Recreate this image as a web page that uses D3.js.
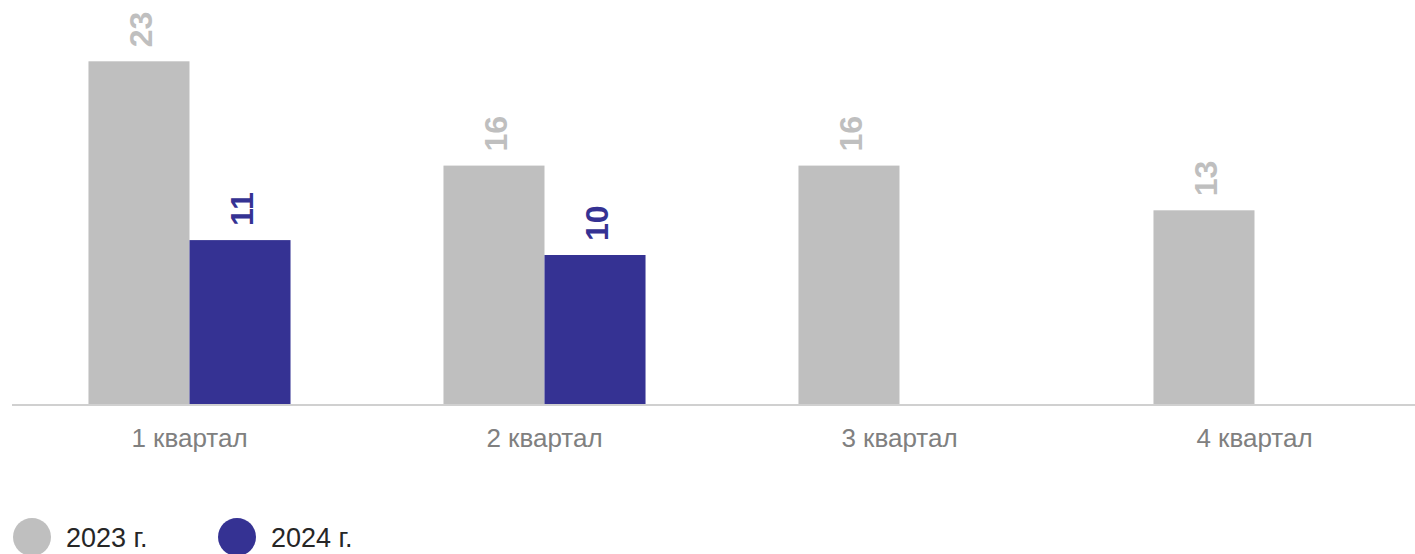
<!DOCTYPE html>
<html>
<head>
<meta charset="utf-8">
<script src="https://cdn.jsdelivr.net/npm/d3@7"></script>
<style>
  html, body { margin: 0; padding: 0; background: #ffffff; }
  svg { display: block; font-family: "Liberation Sans", Arial, sans-serif; }
</style>
</head>
<body>
<svg id="chart" width="1415" height="554"></svg>
<script>
const categories = ["1 квартал", "2 квартал", "3 квартал", "4 квартал"];
const seriesNames = ["2023 г.", "2024 г."];
const values2023 = [23, 16, 16, 13];
const values2024 = [11, 10, null, null];
const seriesColors = ["#bfbfbf", "#353293"];

const svg = d3.select("#chart");
const W = 1415, H = 554;
const baseY = 404;

const x0 = d3.scaleBand().domain(categories).range([12, 12 + 4 * 355]).padding(0);
const x1 = d3.scaleBand().domain(seriesNames).range([0, x0.bandwidth()]).paddingInner(0).paddingOuter(0.757);
const y = d3.scaleLinear().domain([0, 25]).range([baseY, baseY - 25 * 14.9]);

const seriesData = [values2023, values2024];
const rows = [];
categories.forEach((c, i) => {
  seriesNames.forEach((s, j) => {
    const v = seriesData[j][i];
    if (v != null) rows.push({ cat: c, series: s, idx: j, value: v });
  });
});

// bars
svg.append("g").selectAll("rect").data(rows).join("rect")
  .attr("x", d => x0(d.cat) + x1(d.series))
  .attr("y", d => y(d.value))
  .attr("width", x1.bandwidth())
  .attr("height", d => y(0) - y(d.value))
  .attr("fill", d => seriesColors[d.idx]);

// value labels (rotated)
svg.append("g").selectAll("text").data(rows).join("text")
  .attr("transform", d => {
    const cx = x0(d.cat) + x1(d.series) + x1.bandwidth() / 2;
    return `translate(${cx + 1},${y(d.value) - 14}) rotate(-90)`;
  })
  .attr("dy", "0.36em")
  .attr("text-anchor", "start")
  .attr("font-size", 32)
  .attr("font-weight", "bold")
  .attr("fill", d => seriesColors[d.idx])
  .text(d => d.value);

// axis baseline
svg.append("line")
  .attr("x1", 12).attr("x2", W)
  .attr("y1", baseY + 1).attr("y2", baseY + 1)
  .attr("stroke", "#d0d0d0").attr("stroke-width", 2);

// category labels
const xAxis = d3.axisBottom(x0).tickSize(0).tickPadding(0);
const gx = svg.append("g").attr("transform", `translate(0,${baseY})`).call(xAxis);
gx.select(".domain").remove();
gx.selectAll("text")
  .attr("y", 43)
  .attr("dy", 0)
  .attr("font-size", 26)
  .attr("font-family", "Liberation Sans, Arial, sans-serif")
  .attr("fill", "#808080");

// legend
const legendX = [32, 237];
const lg = svg.append("g").selectAll("g").data(seriesNames).join("g")
  .attr("transform", (d, i) => `translate(${legendX[i]},537)`);
lg.append("circle").attr("r", 19).attr("fill", (d, i) => seriesColors[i]);
lg.append("text")
  .attr("x", 34).attr("y", 10)
  .attr("font-size", 27)
  .attr("fill", "#262626")
  .text(d => d);
</script>
</body>
</html>
